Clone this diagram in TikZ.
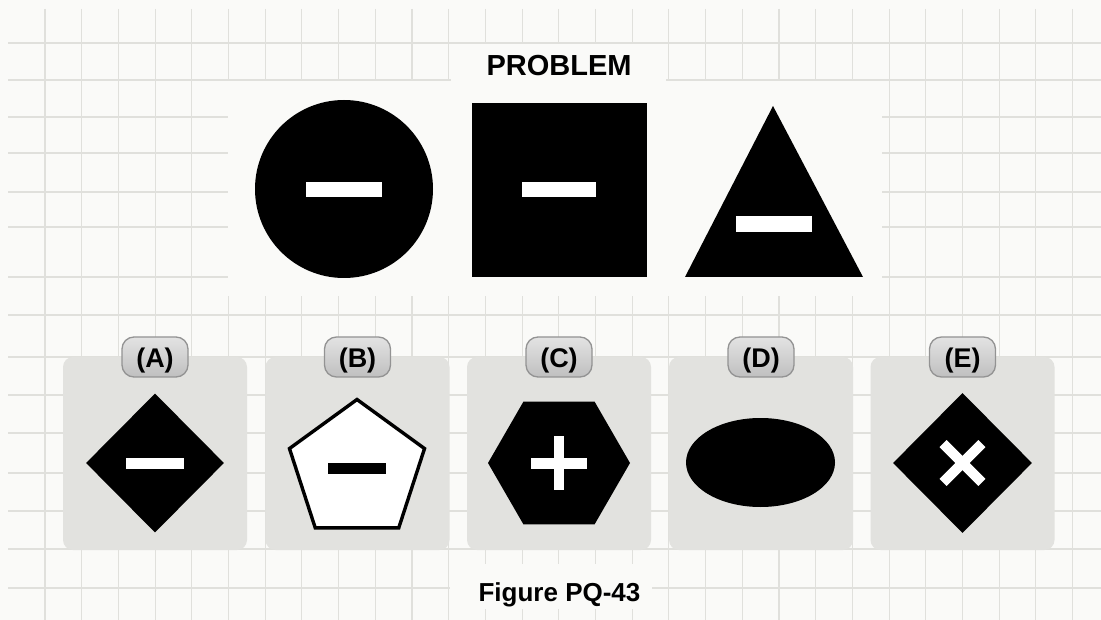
\documentclass[tikz,border=0pt]{standalone}
\usepackage{fontspec}
\setmainfont{Liberation Sans}
\usetikzlibrary{shapes.geometric}

\definecolor{paper}{RGB}{250,250,248}
\definecolor{gridline}{RGB}{224,224,220}
\definecolor{cardgray}{RGB}{226,226,223}

\begin{document}
\begin{tikzpicture}[x=1pt, y=-1pt]

\tikzset{
  card/.style={
    rectangle, rounded corners=10pt, fill=cardgray,
    minimum width=184pt, minimum height=193pt, inner sep=0pt
  },
  pill/.style={
    rectangle, rounded corners=12pt,
    draw=gray!85, line width=1.3pt,
    top color=gray!22, bottom color=gray!50,
    minimum width=66pt, minimum height=40pt, inner sep=0pt
  },
  optlabel/.style={font=\fontsize{27}{30}\selectfont\bfseries, anchor=base, inner sep=0pt},
  blk/.style={fill=black, draw=none, inner sep=0pt},
  bigbar/.style={rectangle, fill=white, inner sep=0pt, minimum width=76pt, minimum height=15pt},
  smallbar/.style={rectangle, fill=#1, inner sep=0pt, minimum width=58pt, minimum height=11pt},
  smallbar/.default=white,
  armbar/.style={rectangle, fill=white, inner sep=0pt, minimum width=55pt, minimum height=10pt}
}

% =========================================================
% Paper and grid
% =========================================================
\useasboundingbox (0,0) rectangle (1101,620);
\fill[paper] (0,0) rectangle (1101,620);

\foreach \gx in {1,...,29}
  \draw[gridline, line width=1.1pt] ({8.3+36.7*\gx},9) -- ({8.3+36.7*\gx},620);
\foreach \gy in {43,80,117,153,192,227,277,315,357,395,433,473,511,549,588}
  \draw[gridline, line width=1.1pt] (8,\gy) -- (1101,\gy);

% blank patches behind the titles and the problem row
\fill[paper] (451,44.5) rectangle (666,83);
\fill[paper] (228,81.5) rectangle (882,296);
\fill[paper] (450,564) rectangle (652,609);

% =========================================================
% Problem row
% =========================================================
\node[font=\fontsize{29}{34}\selectfont\bfseries, anchor=base, inner sep=0pt] (title) at (559,76) {PROBLEM};

\node[circle, blk, minimum size=178pt] (pcircle) at (344,189) {};
\node[bigbar] (pcbar) at (344,189.5) {};

\node[rectangle, blk, minimum width=175pt, minimum height=174pt] (psquare) at (559.5,190) {};
\node[bigbar, minimum width=74pt] (psbar) at (559,189.5) {};

\coordinate (ptop) at (773,106);
\coordinate (pright) at (863,277);
\coordinate (pleft) at (685,277);
\fill[black] (ptop) -- (pright) -- (pleft) -- cycle;
\node[bigbar, minimum height=16pt] (ptbar) at (774,224) {};

% =========================================================
% Answer cards
% =========================================================
\node[card] (cardA) at (155,453.5) {};
\node[card] (cardB) at (357.5,453.5) {};
\node[card] (cardC) at (559,453.5) {};
\node[card] (cardD) at (761,453.5) {};
\node[card] (cardE) at (962.5,453.5) {};

\node[pill] (pillA) at (155,357) {};
\node[pill] (pillB) at (357.5,357) {};
\node[pill] (pillC) at (559,357) {};
\node[pill] (pillD) at (761,357) {};
\node[pill] (pillE) at (962.5,357) {};

\node[optlabel] (labA) at (155,367) {(A)};
\node[optlabel] (labB) at (357.5,367) {(B)};
\node[optlabel] (labC) at (559,367) {(C)};
\node[optlabel] (labD) at (761,367) {(D)};
\node[optlabel] (labE) at (962.5,367) {(E)};

% (A) diamond with minus
\node[diamond, blk, minimum width=138pt, minimum height=139pt] (shA) at (155,463) {};
\node[smallbar] (barA) at (155,463) {};

% (B) open pentagon with minus
\node[regular polygon, regular polygon sides=5, draw=black, line width=3.4pt,
      fill=white, minimum size=142pt, inner sep=0pt] (shB) at (357,470.5) {};
\node[smallbar=black] (barB) at (357,468.5) {};

% (C) hexagon with plus
\node[regular polygon, regular polygon sides=6, blk, minimum size=142pt] (shC) at (559,463) {};
\node[rectangle, fill=white, inner sep=0pt, minimum width=56pt, minimum height=11pt] (plusH) at (559,463) {};
\node[rectangle, fill=white, inner sep=0pt, minimum width=10pt, minimum height=54pt] (plusV) at (559,463) {};

% (D) plain ellipse
\node[ellipse, blk, minimum width=149pt, minimum height=89pt] (shD) at (760.5,462.5) {};

% (E) diamond with cross
\node[diamond, blk, minimum width=139pt, minimum height=140pt] (shE) at (962.5,463) {};
\node[armbar, rotate=45] (crossA) at (962.5,463) {};
\node[armbar, rotate=-45] (crossB) at (962.5,463) {};

% =========================================================
% Caption
% =========================================================
\node[font=\fontsize{26}{30}\selectfont\bfseries, anchor=base, inner sep=0pt] (caption) at (559.5,601) {Figure PQ-43};

\end{tikzpicture}
\end{document}
